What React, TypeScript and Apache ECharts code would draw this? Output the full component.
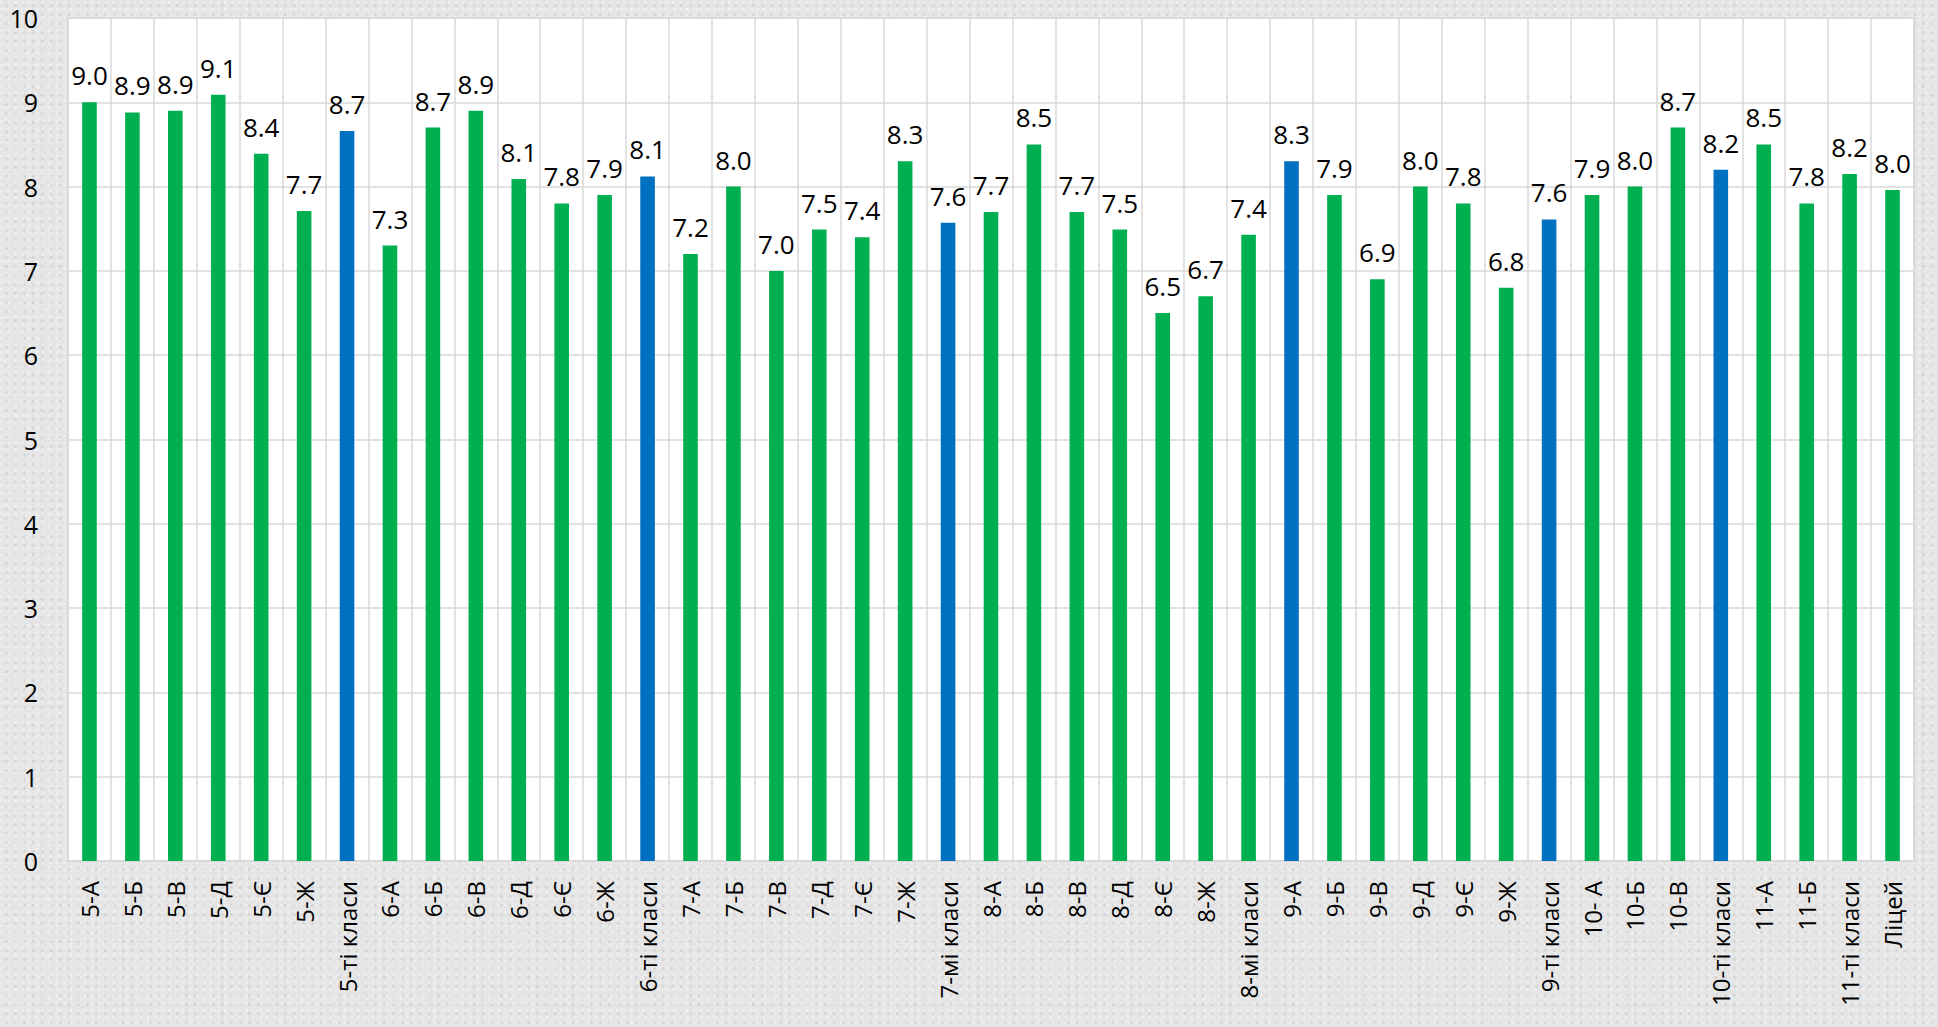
import React, { useEffect, useRef } from "react";
import * as echarts from "echarts";

const categories = [
  "5-А", "5-Б", "5-В", "5-Д", "5-Є", "5-Ж", "5-ті класи",
  "6-А", "6-Б", "6-В", "6-Д", "6-Є", "6-Ж", "6-ті класи",
  "7-А", "7-Б", "7-В", "7-Д", "7-Є", "7-Ж", "7-мі класи",
  "8-А", "8-Б", "8-В", "8-Д", "8-Є", "8-Ж", "8-мі класи",
  "9-А", "9-Б", "9-В", "9-Д", "9-Є", "9-Ж", "9-ті класи",
  "10- А", "10-Б", "10-В", "10-ті класи",
  "11-А", "11-Б", "11-ті класи",
  "Ліцей",
];

const values = [
  9.0, 8.88, 8.9, 9.09, 8.39, 7.71, 8.66,
  7.3, 8.7, 8.9, 8.09, 7.8, 7.9, 8.12,
  7.2, 8.0, 7.0, 7.49, 7.4, 8.3, 7.57,
  7.7, 8.5, 7.7, 7.49, 6.5, 6.7, 7.43,
  8.3, 7.9, 6.9, 8.0, 7.8, 6.8, 7.61,
  7.9, 8.0, 8.7, 8.2,
  8.5, 7.8, 8.15,
  7.96,
];

// categories drawn in blue (summary bars)
const blueCategories = ["5-ті класи", "6-ті класи", "7-мі класи", "9-А", "9-ті класи", "10-ті класи"];

const yTicks = { min: 0, max: 10, interval: 1 };

const GREEN = "#00b050";
const BLUE = "#0070c0";
const GRID = "#d9d9d9";
const FONT = "'Open Sans', 'Noto Sans', sans-serif";

export default function App() {
  const ref = useRef<HTMLDivElement>(null);

  useEffect(() => {
    if (!ref.current) return;
    const chart = echarts.init(ref.current, undefined, { renderer: "svg" });
    chart.setOption({
      animation: false,
      backgroundColor: "transparent",
      textStyle: { fontFamily: FONT },
      grid: {
        left: 68,
        right: 24,
        top: 18,
        bottom: 166,
        show: true,
        backgroundColor: "#ffffff",
        borderColor: GRID,
        borderWidth: 1.5,
      },
      xAxis: {
        type: "category",
        data: categories,
        boundaryGap: true,
        axisLine: { show: true, lineStyle: { color: GRID, width: 2 } },
        axisTick: { show: false },
        splitLine: { show: true, interval: 0, lineStyle: { color: GRID, width: 1.5 } },
        axisLabel: {
          interval: 0,
          rotate: 90,
          margin: 20,
          color: "#000",
          fontSize: 24,
          fontFamily: FONT,
        },
      },
      yAxis: {
        type: "value",
        min: yTicks.min,
        max: yTicks.max,
        interval: yTicks.interval,
        axisLine: { show: false },
        axisTick: { show: false },
        splitLine: { show: true, lineStyle: { color: GRID, width: 1.5 } },
        axisLabel: {
          margin: 30,
          color: "#000",
          fontSize: 25,
          fontFamily: FONT,
        },
      },
      series: [
        {
          type: "bar",
          barWidth: "34%",
          data: values.map((v, i) => ({
            value: v,
            itemStyle: { color: blueCategories.includes(categories[i]) ? BLUE : GREEN },
          })),
          label: {
            show: true,
            position: "top",
            distance: 14,
            color: "#000",
            fontSize: 26,
            fontFamily: FONT,
            formatter: (p: any) => Number(p.value).toFixed(1),
          },
        },
      ],
    });
    return () => chart.dispose();
  }, []);

  return (
    <div
      style={{
        position: "absolute",
        left: 0,
        top: 0,
        width: 1938,
        height: 1027,
        backgroundColor: "#e5e5e5",
        backgroundImage:
          "radial-gradient(circle at 20% 30%, rgba(255,255,255,0.3) 0 1px, transparent 2px), radial-gradient(circle at 70% 60%, rgba(175,175,175,0.3) 0 1px, transparent 2px), radial-gradient(circle at 45% 85%, rgba(250,250,250,0.3) 0 1px, transparent 2px)",
        backgroundSize: "7px 7px, 9px 9px, 11px 11px",
      }}
    >
      <div ref={ref} style={{ width: 1938, height: 1027 }} />
    </div>
  );
}
